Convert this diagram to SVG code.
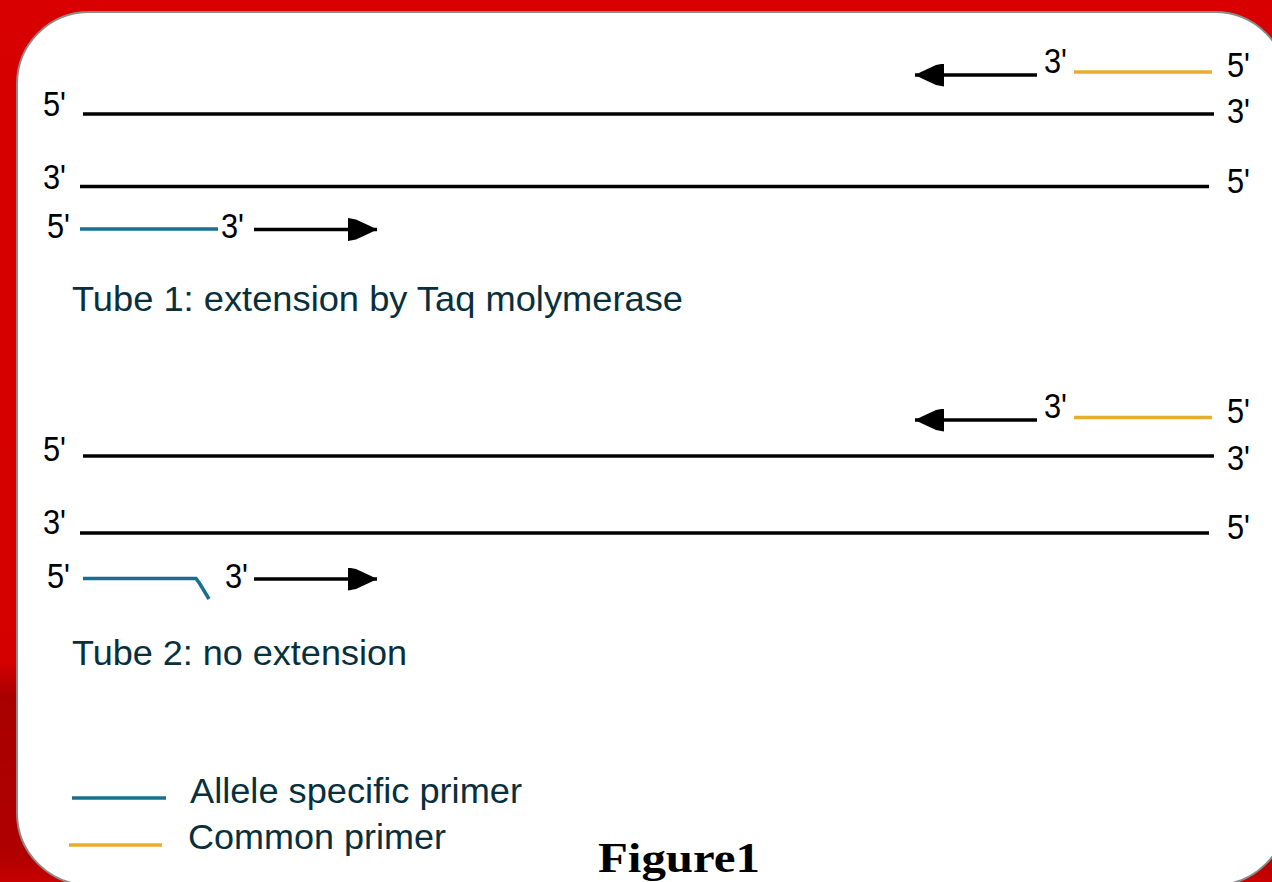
<svg xmlns="http://www.w3.org/2000/svg" width="1272" height="882" viewBox="0 0 1272 882">
  <defs>
    <linearGradient id="bg" x1="0" y1="0" x2="0" y2="1">
      <stop offset="0" stop-color="#d80000"/>
      <stop offset="0.75" stop-color="#d40000"/>
      <stop offset="0.79" stop-color="#a80000"/>
      <stop offset="0.97" stop-color="#b00000"/>
      <stop offset="1" stop-color="#c80000"/>
    </linearGradient>
    <marker id="head" markerUnits="userSpaceOnUse" viewBox="0 0 29 23" markerWidth="29" markerHeight="23" refX="29" refY="11.5" orient="auto">
      <polygon points="0,0 8,1.5 22,8 29,11.5 22,15 8,21.5 0,23" fill="#000"/>
    </marker>
    <style>
      .strand { stroke: #000; stroke-width: 3.5; fill: none; }
      .allele { stroke: #1b6f8c; stroke-width: 3.5; fill: none; }
      .common { stroke: #e8ac30; stroke-width: 3.5; fill: none; }
      .arrow { stroke: #000; stroke-width: 3.5; fill: none; marker-end: url(#head); }
      .end { font-family: "Liberation Sans", Arial, sans-serif; font-size: 35px; fill: #000; }
      .cap { font-family: "Liberation Sans", Arial, sans-serif; font-size: 35px; fill: #08303c; }
      .fig { font-family: "Liberation Serif", "Times New Roman", serif; font-size: 42px; font-weight: bold; fill: #000; }
    </style>
  </defs>

  <rect x="0" y="0" width="1272" height="882" fill="url(#bg)"/>
  <rect x="17" y="12" width="1270" height="873" rx="72" ry="72" fill="#fff" stroke="#8a8a8a" stroke-width="2"/>

  <g id="tube1">
    <text class="end" x="43" y="116" textLength="23" lengthAdjust="spacingAndGlyphs">5'</text>
    <text class="end" x="1227" y="123" textLength="23" lengthAdjust="spacingAndGlyphs">3'</text>
    <text class="end" x="43" y="189" textLength="23" lengthAdjust="spacingAndGlyphs">3'</text>
    <text class="end" x="1227" y="193" textLength="23" lengthAdjust="spacingAndGlyphs">5'</text>
    <text class="end" x="1044" y="73" textLength="23" lengthAdjust="spacingAndGlyphs">3'</text>
    <text class="end" x="1227" y="77" textLength="23" lengthAdjust="spacingAndGlyphs">5'</text>
    <text class="end" x="47" y="238" textLength="23" lengthAdjust="spacingAndGlyphs">5'</text>
    <text class="end" x="221" y="238" textLength="23" lengthAdjust="spacingAndGlyphs">3'</text>
    <text class="cap" x="72" y="311" textLength="611" lengthAdjust="spacingAndGlyphs">Tube 1: extension by Taq molymerase</text>
  </g>

  <g id="tube2">
    <text class="end" x="43" y="461" textLength="23" lengthAdjust="spacingAndGlyphs">5'</text>
    <text class="end" x="1227" y="470" textLength="23" lengthAdjust="spacingAndGlyphs">3'</text>
    <text class="end" x="43" y="534" textLength="23" lengthAdjust="spacingAndGlyphs">3'</text>
    <text class="end" x="1227" y="539" textLength="23" lengthAdjust="spacingAndGlyphs">5'</text>
    <text class="end" x="1044" y="418" textLength="23" lengthAdjust="spacingAndGlyphs">3'</text>
    <text class="end" x="1227" y="423" textLength="23" lengthAdjust="spacingAndGlyphs">5'</text>
    <text class="end" x="47" y="588" textLength="23" lengthAdjust="spacingAndGlyphs">5'</text>
    <text class="end" x="225" y="588" textLength="23" lengthAdjust="spacingAndGlyphs">3'</text>
    <text class="cap" x="72" y="665" textLength="335" lengthAdjust="spacingAndGlyphs">Tube 2: no extension</text>
  </g>

  <g id="connectors">
    <line class="strand" x1="83" y1="114" x2="1214" y2="114"/>
    <line class="strand" x1="80" y1="186.5" x2="1209" y2="186.5"/>
    <line class="common" x1="1074" y1="72" x2="1212" y2="72"/>
    <line class="arrow" x1="1037" y1="75" x2="915" y2="75"/>
    <line class="allele" x1="80" y1="229" x2="218" y2="229"/>
    <line class="arrow" x1="254" y1="229.5" x2="377" y2="229.5"/>

    <line class="strand" x1="83" y1="456" x2="1214" y2="456"/>
    <line class="strand" x1="80" y1="533" x2="1209" y2="533"/>
    <line class="common" x1="1074" y1="417.5" x2="1212" y2="417.5"/>
    <line class="arrow" x1="1037" y1="420" x2="915" y2="420"/>
    <polyline class="allele" points="83,578.5 196,578.5 200,584 209,599" stroke-width="3"/>
    <line class="arrow" x1="254" y1="579" x2="377" y2="579"/>
  </g>

  <g id="legend">
    <line class="allele" x1="72" y1="798" x2="166" y2="798"/>
    <text class="cap" x="190" y="803" textLength="332" lengthAdjust="spacingAndGlyphs" font-size="34">Allele specific primer</text>
    <line class="common" x1="69" y1="845" x2="162" y2="845"/>
    <text class="cap" x="188" y="849" textLength="258" lengthAdjust="spacingAndGlyphs" font-size="34">Common primer</text>
  </g>

  <g id="caption">
    <text class="fig" x="598" y="872" textLength="162" lengthAdjust="spacingAndGlyphs">Figure1</text>
  </g>
</svg>
